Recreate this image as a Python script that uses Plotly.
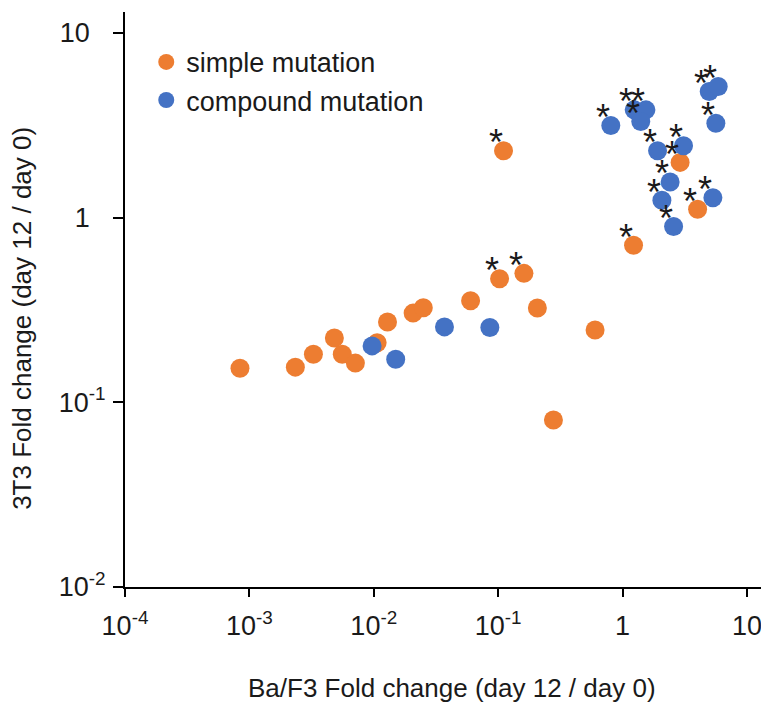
import numpy as np
import plotly.graph_objects as go

# ---- data ----
simple_x = [8.4e-4, 2.34e-3, 3.27e-3, 4.82e-3, 5.58e-3, 7.11e-3, 0.01064, 0.01289,
            0.0207, 0.0250, 0.0600, 0.1026, 0.161, 0.2065, 0.278, 0.601, 1.225,
            0.1104, 2.90, 4.01]
simple_y = [0.153, 0.155, 0.182, 0.223, 0.182, 0.163, 0.210, 0.272,
            0.304, 0.325, 0.355, 0.466, 0.499, 0.324, 0.0802, 0.246, 0.708,
            2.30, 1.99, 1.11]
simple_sig = [False, False, False, False, False, False, False, False,
              False, False, False, True, True, False, False, False, True,
              True, True, True]

compound_x = [0.00969, 0.0150, 0.0370, 0.0857, 0.804, 1.24, 1.54, 1.40, 1.91,
              3.09, 2.41, 2.07, 2.57, 5.32, 5.62, 4.97, 5.87]
compound_y = [0.202, 0.171, 0.256, 0.254, 3.15, 3.83, 3.83, 3.31, 2.30,
              2.45, 1.56, 1.24, 0.894, 1.28, 3.24, 4.81, 5.12]
compound_sig = [False, False, False, False, True, True, True, True, True,
                True, True, True, True, True, True, True, True]

x_tickvals = [1e-4, 1e-3, 1e-2, 1e-1, 1, 10]
x_ticktext = ["10<sup>-4</sup>", "10<sup>-3</sup>", "10<sup>-2</sup>",
              "10<sup>-1</sup>", "1", "10"]
y_tickvals = [1e-2, 1e-1, 1, 10]
NB = "\u00a0"
y_ticktext = ["10<sup>-2</sup>", "10<sup>-1</sup>", "1<sup>" + NB * 3 + "</sup>",
              "10<sup>" + NB * 3 + "</sup>"]

series_names = ["simple mutation", "compound mutation"]
ORANGE = "#ED7D31"
BLUE = "#4472C4"
TXT = "#1a1a1a"
FONT = "Arial, Liberation Sans, sans-serif"

fig = go.Figure()
fig.add_trace(go.Scatter(x=simple_x, y=simple_y, mode="markers", name=series_names[0],
                         marker=dict(color=ORANGE, size=19, line=dict(width=0))))
fig.add_trace(go.Scatter(x=compound_x, y=compound_y, mode="markers", name=series_names[1],
                         marker=dict(color=BLUE, size=19, line=dict(width=0))))

annotations = []
for xs, ys, sig in [(simple_x, simple_y, simple_sig), (compound_x, compound_y, compound_sig)]:
    for xv, yv, s in zip(xs, ys, sig):
        if s:
            annotations.append(dict(x=np.log10(xv), y=np.log10(yv), xref="x", yref="y",
                                    text="*", showarrow=False, xshift=-8, yshift=8,
                                    font=dict(size=36, color=TXT, family=FONT)))

annotations.append(dict(text="Ba/F3 Fold change (day 12 / day 0)", xref="paper", yref="paper",
                        x=0.508, y=-0.176, xanchor="center", yanchor="middle", showarrow=False,
                        font=dict(size=26, color=TXT, family=FONT)))
annotations.append(dict(text="3T3 Fold change (day 12 / day 0)", xref="paper", yref="paper",
                        x=-0.16, y=0.468, xanchor="center", yanchor="middle", showarrow=False,
                        textangle=-90, font=dict(size=26, color=TXT, family=FONT)))

# page body has an 8px margin, so the figure is drawn 8px smaller and shifted
fig.update_layout(
    width=761, height=696,
    margin=dict(l=117, r=0, t=4, b=117, autoexpand=False),
    paper_bgcolor="white", plot_bgcolor="white",
    font=dict(family=FONT, size=26, color=TXT),
    showlegend=True,
    legend=dict(x=0.033, y=0.955, xanchor="left", yanchor="top",
                bgcolor="rgba(0,0,0,0)", font=dict(size=27, family=FONT, color=TXT),
                tracegroupgap=0),
    annotations=annotations,
)
fig.update_xaxes(type="log", range=[-4, 1.177], tickvals=x_tickvals, ticktext=x_ticktext,
                 automargin=False,
                 showgrid=False, zeroline=False, showline=True, linecolor="black", linewidth=2,
                 ticks="outside", ticklen=8, tickwidth=2, tickcolor="black",
                 tickfont=dict(size=27, family=FONT, color=TXT), ticklabelstandoff=6)
fig.update_yaxes(type="log", range=[-2, 1.113], tickvals=y_tickvals, ticktext=y_ticktext,
                 automargin=False,
                 showgrid=False, zeroline=False, showline=True, linecolor="black", linewidth=2,
                 ticks="outside", ticklen=10, tickwidth=2, tickcolor="black",
                 tickfont=dict(size=27, family=FONT, color=TXT), ticklabelstandoff=2)

fig.write_html("out.html")
